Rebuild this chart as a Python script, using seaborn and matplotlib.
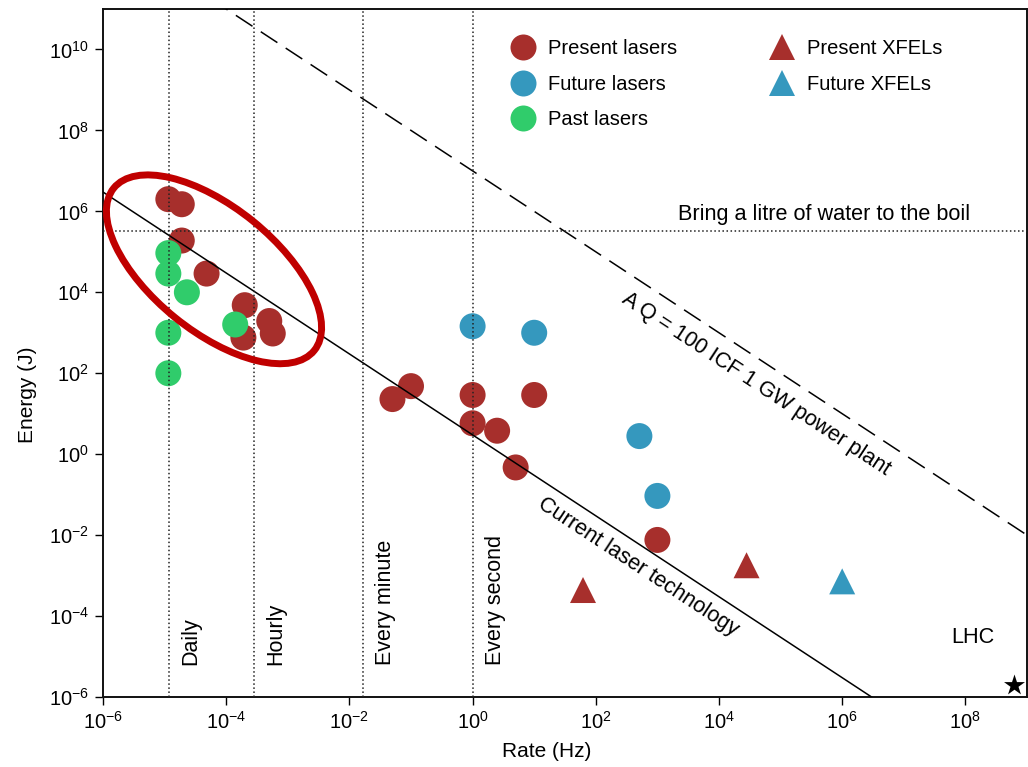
import numpy as np
import pandas as pd
import matplotlib
matplotlib.use("Agg")
import matplotlib.pyplot as plt
import seaborn as sns
from matplotlib.lines import Line2D
from matplotlib.patches import Ellipse
from matplotlib.transforms import ScaledTranslation
from matplotlib.ticker import NullLocator

# ---- data: repetition rate (Hz) and energy per shot (J) ----
present_rate = [1.15e-5, 1.9e-5, 1.9e-5, 4.8e-5, 2.0e-4, 1.9e-4, 5.0e-4, 5.7e-4,
                0.05, 0.1, 1.0, 1.0, 2.5, 5.0, 10.0, 1000.0]
present_energy = [2.0e6, 1.5e6, 1.9e5, 2.9e4, 4.8e3, 7.6e2, 1.95e3, 9.6e2,
                  23.0, 48.0, 29.0, 5.8, 3.8, 0.47, 29.0, 0.0076]

future_rate = [1.0, 10.0, 510.0, 1000.0]
future_energy = [1.45e3, 1.0e3, 2.8, 0.093]

past_rate = [1.15e-5, 1.15e-5, 2.3e-5, 1.4e-4, 1.15e-5, 1.15e-5]
past_energy = [9.3e4, 2.9e4, 1.0e4, 1.6e3, 1.0e3, 100.0]

xfel_present_rate = [62.0, 2.8e4]
xfel_present_energy = [4.4e-4, 1.8e-3]

xfel_future_rate = [1.0e6]
xfel_future_energy = [7.2e-4]

lhc_rate = [6.2e8]
lhc_energy = [2.0e-6]

groups = ["Present lasers", "Future lasers", "Past lasers", "Present XFELs", "Future XFELs"]
colors = {"Present lasers": "#A72F2C", "Future lasers": "#3598BE", "Past lasers": "#30CC6B",
          "Present XFELs": "#A72F2C", "Future XFELs": "#3598BE"}
markers = {"Present lasers": "o", "Future lasers": "o", "Past lasers": "o",
           "Present XFELs": "^", "Future XFELs": "^"}

# reference levels
laser_power = 3.0          # W, current laser technology (E * f)
plant_power = 1.0e7        # W, Q = 100 ICF 1 GW power plant
boil_energy = 3.3e5        # J, one litre of water to the boil
cadence_names = ["Daily", "Hourly", "Every minute", "Every second"]
cadence_rates = [1 / 86400, 1 / 3600, 1 / 60, 1.0]

xlim = (1e-6, 1e9)
ylim = (1e-6, 1e11)

rows = []
for g, r, e in [("Present lasers", present_rate, present_energy),
                ("Future lasers", future_rate, future_energy),
                ("Past lasers", past_rate, past_energy),
                ("Present XFELs", xfel_present_rate, xfel_present_energy),
                ("Future XFELs", xfel_future_rate, xfel_future_energy)]:
    rows += [{"group": g, "rate": a, "energy": b} for a, b in zip(r, e)]
df = pd.DataFrame(rows)

sns.set_style("ticks")
plt.rcParams["font.family"] = ["Liberation Sans", "DejaVu Sans"]
plt.rcParams["mathtext.fontset"] = "custom"
plt.rcParams["mathtext.rm"] = "Liberation Sans"
plt.rcParams["mathtext.it"] = "Liberation Sans:italic"
plt.rcParams["mathtext.default"] = "regular"
plt.rcParams["text.color"] = "black"
plt.rcParams["axes.labelcolor"] = "black"
plt.rcParams["xtick.color"] = "black"
plt.rcParams["ytick.color"] = "black"

fig = plt.figure(figsize=(10.28, 7.67), dpi=100)
ax = fig.add_axes([103 / 1028, 70 / 767, 924 / 1028, 688 / 767])
ax.set_xscale("log")
ax.set_yscale("log")
ax.set_xlim(*xlim)
ax.set_ylim(*ylim)

size = 26 * 0.72
sns.scatterplot(data=df, x="rate", y="energy", hue="group", style="group",
                palette=colors, markers=markers, s=size ** 2, linewidth=0,
                legend=False, ax=ax, zorder=2)
ax.scatter(lhc_rate, lhc_energy, marker="*", s=(22 * 0.72) ** 2, color="black",
           linewidth=0, zorder=4, clip_on=False)

# reference lines
xs = np.array(xlim)
ax.plot(xs, laser_power / xs, color="black", lw=1.1, zorder=3)
ax.plot(xs, plant_power / xs, color="black", lw=1.1, dashes=(13, 6.5), zorder=3)
ax.axhline(boil_energy, color="#222222", lw=1.1, ls=":", zorder=3)
for name, r in zip(cadence_names, cadence_rates):
    ax.axvline(r, color="#222222", lw=1.1, ls=":", zorder=3)
    ax.annotate(name, xy=(r, 0), xycoords=("data", "axes fraction"),
                xytext=(12, 32), textcoords="offset pixels", rotation=90,
                ha="left", va="bottom", fontsize=15.5)

# slope of E = P / f on screen
p0 = ax.transData.transform((1e0, 1e0))
p1 = ax.transData.transform((1e1, 1e-1))
angle = np.degrees(np.arctan2(p1[1] - p0[1], p1[0] - p0[0]))

ax.text(10 ** 4.6, 10 ** 1.73, "A Q = 100 ICF 1 GW power plant", rotation=angle,
        rotation_mode="anchor", ha="center", va="center", fontsize=15.6)
ax.text(10 ** 2.685, 10 ** -2.79, "Current laser technology", rotation=angle,
        rotation_mode="anchor", ha="center", va="center", fontsize=15.6)
ax.text(10 ** 8.07, 10 ** 5.93, "Bring a litre of water to the boil",
        ha="right", va="center", fontsize=15.6)
ax.text(10 ** 8.12, 10 ** -4.52, "LHC", ha="center", va="center", fontsize=15.6)

# highlight of the single-shot high-energy systems
ell_center = (10 ** -4.198, 10 ** 4.568)
ell = Ellipse((0, 0), width=2.58, height=1.24, angle=-39, fill=False,
              edgecolor="#C00000", lw=5,
              transform=fig.dpi_scale_trans + ScaledTranslation(*ell_center, ax.transData),
              zorder=5, clip_on=False)
ax.add_patch(ell)

# axes styling
ax.set_xticks([10.0 ** k for k in range(-6, 9, 2)])
ax.set_yticks([10.0 ** k for k in range(-6, 11, 2)])
ax.xaxis.set_minor_locator(NullLocator())
ax.yaxis.set_minor_locator(NullLocator())
ax.tick_params(direction="out", length=6, width=1, labelsize=14.5, pad=4, colors="black")
for sp in ax.spines.values():
    sp.set_linewidth(1.4)
    sp.set_color("#111111")
ax.set_xlabel("Rate (Hz)", fontsize=15)
ax.set_ylabel("Energy (J)", fontsize=15)
ax.xaxis.set_label_coords(0.4805, -0.066)
ax.yaxis.set_label_coords(-0.0714, 0.44)

handles = [Line2D([], [], marker=markers[g], linestyle="none", markersize=size,
                  markerfacecolor=colors[g], markeredgewidth=0) for g in groups]
ax.legend(handles, groups, ncol=2, loc="upper left", bbox_to_anchor=(0.4416, 0.956),
          frameon=False, fontsize=14.5, borderpad=0, borderaxespad=0,
          handlelength=1.2, handletextpad=0.65, labelspacing=0.82, columnspacing=4.6)

fig.savefig("out.png", dpi=100)
